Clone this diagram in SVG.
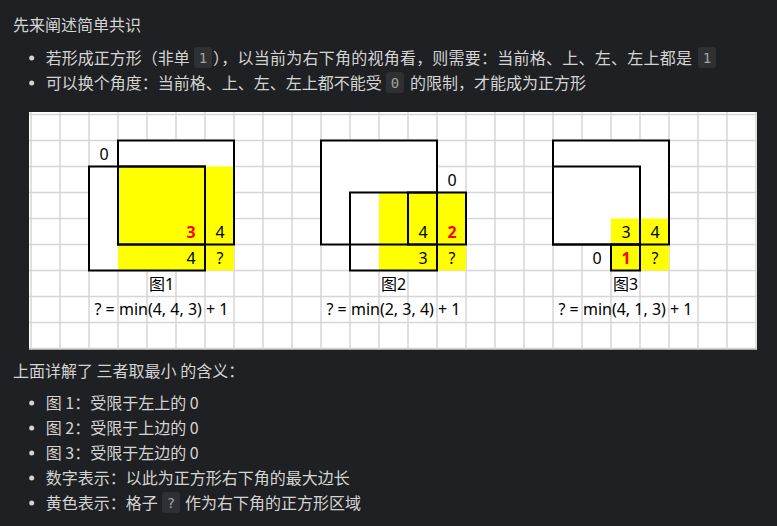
<svg xmlns="http://www.w3.org/2000/svg" width="777" height="526" viewBox="0 0 777 526">
<style>
.t{font-family:"Noto Sans CJK SC","Noto Sans",sans-serif;font-size:16px;fill:#d4d4d4}
.code{fill:#2f3033}
.ct{font-family:"DejaVu Sans Mono","Liberation Mono",monospace;font-size:14px;fill:#a3a3a3;text-anchor:middle}
.dot{fill:#d4d4d4}
.grid{stroke:#d6d6d6;stroke-width:1.5;fill:none}
.wf{fill:#ffffff;stroke:none}
.yf{fill:#ffff00;stroke:none}
.bx{fill:none;stroke:#000;stroke-width:2}
.n{font-family:"Noto Sans","Noto Sans CJK SC",sans-serif;font-size:16px;fill:#000;text-anchor:middle}
.r{fill:#ff0000;font-weight:bold}
</style>
<rect width="777" height="526" fill="#1f2023"/>

<g id="intro">
<text class="t" x="13" y="31">先来阐述简单共识</text>
<circle class="dot" cx="31.7" cy="58" r="2.5"/>
<text class="t" x="45.7" y="63.5">若形成正方形（非单</text>
<rect class="code" x="194" y="47" width="18" height="21" rx="3"/>
<text class="ct" x="203" y="62.5">1</text>
<text class="t" x="213" y="63.5" textLength="479" lengthAdjust="spacing">），以当前为右下角的视角看，则需要：当前格、上、左、左上都是</text>
<rect class="code" x="698" y="47" width="18" height="21" rx="3"/>
<text class="ct" x="707" y="62.5">1</text>
<circle class="dot" cx="31.7" cy="83" r="2.5"/>
<text class="t" x="45.7" y="88.5">可以换个角度：当前格、上、左、左上都不能受</text>
<rect class="code" x="386" y="72" width="18" height="21" rx="3"/>
<text class="ct" x="395" y="87.5">0</text>
<text class="t" x="410" y="88.5">的限制，才能成为正方形</text>
</g>

<g id="figure">
<rect x="29" y="112" width="728" height="237.5" fill="#ffffff"/>
<path class="grid" d="M31 112V349.5M60 112V349.5M89 112V349.5M118 112V349.5M147 112V349.5M176 112V349.5M205 112V349.5M234 112V349.5M263 112V349.5M292 112V349.5M321 112V349.5M350 112V349.5M379 112V349.5M408 112V349.5M437 112V349.5M466 112V349.5M495 112V349.5M524 112V349.5M553 112V349.5M582 112V349.5M611 112V349.5M640 112V349.5M669 112V349.5M698 112V349.5M727 112V349.5M756 112V349.5M29 114.5H757M29 140.5H757M29 166.5H757M29 192.5H757M29 218.5H757M29 244.5H757M29 270.5H757M29 296.5H757M29 322.5H757M29 348.5H757"/>

<g id="fig1">
<rect class="wf" x="118" y="140.5" width="116" height="104"/>
<rect class="wf" x="89" y="166.5" width="116" height="104"/>
<rect class="yf" x="118" y="166.5" width="116" height="104"/>
<rect class="bx" x="118" y="140.5" width="116" height="104"/>
<rect class="bx" x="89" y="166.5" width="116" height="104"/>
<rect class="bx" x="118" y="166.5" width="87" height="78"/>
<text class="n" x="104" y="160">0</text>
<text class="n r" x="191" y="238">3</text>
<text class="n" x="220" y="238">4</text>
<text class="n" x="191" y="264">4</text>
<text class="n" x="220" y="264">?</text>
<text class="n" x="161.5" y="290">图1</text>
<text class="n" x="161.5" y="315">? = min(4, 4, 3) + 1</text>
</g>

<g id="fig2">
<rect class="wf" x="321" y="140.5" width="116" height="104"/>
<rect class="wf" x="350" y="192.5" width="87" height="78"/>
<rect class="yf" x="379" y="192.5" width="87" height="78"/>
<rect class="bx" x="321" y="140.5" width="116" height="104"/>
<rect class="bx" x="350" y="192.5" width="87" height="78"/>
<rect class="bx" x="408" y="192.5" width="58" height="52"/>
<text class="n" x="452" y="186">0</text>
<text class="n" x="423" y="238">4</text>
<text class="n r" x="452" y="238">2</text>
<text class="n" x="423" y="264">3</text>
<text class="n" x="452" y="264">?</text>
<text class="n" x="393.5" y="290">图2</text>
<text class="n" x="393.5" y="315">? = min(2, 3, 4) + 1</text>
</g>

<g id="fig3">
<rect class="wf" x="553" y="140.5" width="116" height="104"/>
<rect class="yf" x="611" y="218.5" width="58" height="52"/>
<rect class="bx" x="553" y="140.5" width="116" height="104"/>
<rect class="bx" x="553" y="166.5" width="87" height="78"/>
<rect class="bx" x="611" y="244.5" width="29" height="26"/>
<text class="n" x="626" y="238">3</text>
<text class="n" x="655" y="238">4</text>
<text class="n" x="597" y="264">0</text>
<text class="n r" x="626" y="264">1</text>
<text class="n" x="655" y="264">?</text>
<text class="n" x="625.5" y="290">图3</text>
<text class="n" x="625.5" y="315">? = min(4, 1, 3) + 1</text>
</g>
</g>

<g id="notes">
<text class="t" x="13" y="376.5">上面详解了 三者取最小 的含义：</text>
<circle class="dot" cx="31.7" cy="403" r="2.5"/>
<text class="t" x="45.7" y="408.5">图 1：受限于左上的 0</text>
<circle class="dot" cx="31.7" cy="428" r="2.5"/>
<text class="t" x="45.7" y="433.5">图 2：受限于上边的 0</text>
<circle class="dot" cx="31.7" cy="453" r="2.5"/>
<text class="t" x="45.7" y="458.5">图 3：受限于左边的 0</text>
<circle class="dot" cx="31.7" cy="478" r="2.5"/>
<text class="t" x="45.7" y="483.5">数字表示：以此为正方形右下角的最大边长</text>
<circle class="dot" cx="31.7" cy="503" r="2.5"/>
<text class="t" x="45.7" y="508.5">黄色表示：格子</text>
<rect class="code" x="162" y="492" width="18" height="21" rx="3"/>
<text class="ct" x="171" y="507.5">?</text>
<text class="t" x="185" y="508.5">作为右下角的正方形区域</text>
</g>
</svg>
